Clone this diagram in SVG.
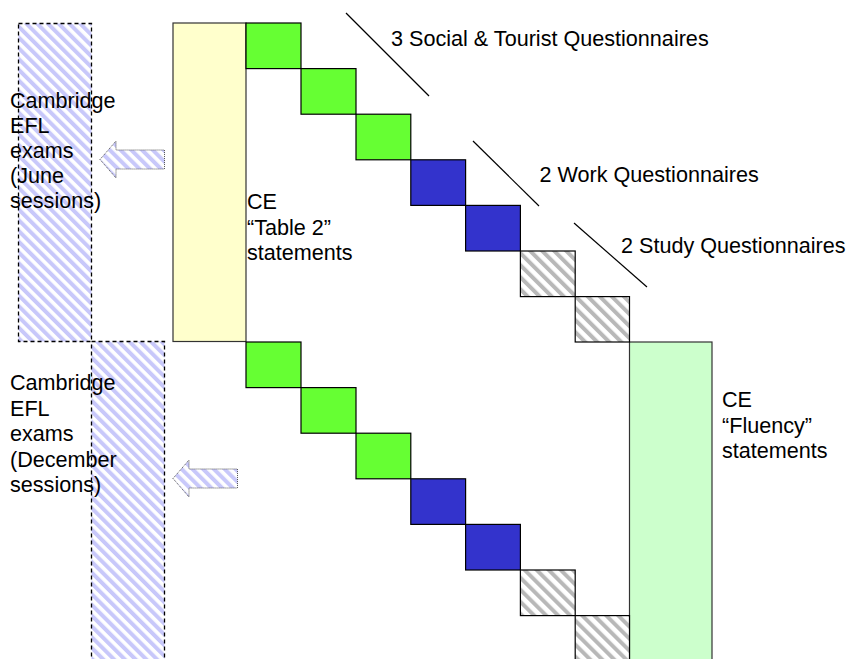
<svg xmlns="http://www.w3.org/2000/svg" width="846" height="659" viewBox="0 0 846 659">
<defs>
<pattern id="blueHatch" patternUnits="userSpaceOnUse" width="7.6" height="7.6" patternTransform="rotate(-45)">
<rect width="7.6" height="7.6" fill="#ffffff"/>
<rect width="4" height="7.6" fill="#c8c8fa"/>
</pattern>
<pattern id="greyHatch" patternUnits="userSpaceOnUse" width="8.5" height="8.5" patternTransform="rotate(-45)">
<rect width="8.5" height="8.5" fill="#ffffff"/>
<rect width="4" height="8.5" fill="#b8b8b8"/>
</pattern>
<style>
.lbl{font-family:"Liberation Sans",Arial,sans-serif;font-size:21.6px;fill:#000}
.sq{stroke:#000;stroke-width:1.2}
.g{fill:#66ff33}
.b{fill:#3333cc}
.h{fill:url(#greyHatch)}
.bar{fill:url(#blueHatch);stroke:#000;stroke-width:1.3;stroke-dasharray:4 3}
.arr{fill:url(#blueHatch);stroke:#555;stroke-width:1;stroke-dasharray:1 1}
.ln{stroke:#000;stroke-width:1.2;fill:none}
</style>
</defs>
<rect width="846" height="659" fill="#ffffff"/>

<g id="exams-june">
<rect class="bar" x="18.5" y="23.5" width="73" height="318"/>
</g>
<g id="exams-december">
<rect class="bar" x="91.5" y="341.5" width="73" height="340"/>
</g>

<g id="ce-table2">
<rect x="173" y="23" width="73" height="318.5" fill="#ffffcc" stroke="#333" stroke-width="1.2"/>
<text class="lbl" x="247" y="209"><tspan x="247">CE</tspan><tspan x="247" dy="25.5">“Table 2”</tspan><tspan x="247" dy="25.5">statements</tspan></text>
</g>

<g id="ce-fluency">
<rect x="629.5" y="342" width="82.5" height="340" fill="#ccffcc" stroke="#333" stroke-width="1.2"/>
<text class="lbl" x="722" y="407"><tspan x="722">CE</tspan><tspan x="722" dy="25.5">“Fluency”</tspan><tspan x="722" dy="25.5">statements</tspan></text>
</g>

<g id="questionnaires-top">
<rect class="sq g" x="246" y="23" width="55" height="45.6"/>
<rect class="sq g" x="301" y="68.6" width="55" height="45.6"/>
<rect class="sq g" x="356" y="114.2" width="54.8" height="45.6"/>
<rect class="sq b" x="410.8" y="159.8" width="54.8" height="45.6"/>
<rect class="sq b" x="465.6" y="205.4" width="54.8" height="45.6"/>
<rect class="sq h" x="520.4" y="251" width="54.8" height="45.6"/>
<rect class="sq h" x="575.2" y="296.6" width="54.3" height="45.4"/>
</g>

<g id="questionnaires-bottom">
<rect class="sq g" x="246" y="342" width="55" height="45.6"/>
<rect class="sq g" x="301" y="387.6" width="55" height="45.6"/>
<rect class="sq g" x="356" y="433.2" width="54.8" height="45.6"/>
<rect class="sq b" x="410.8" y="478.8" width="54.8" height="45.6"/>
<rect class="sq b" x="465.6" y="524.4" width="54.8" height="45.6"/>
<rect class="sq h" x="520.4" y="570" width="54.8" height="45.6"/>
<rect class="sq h" x="575.2" y="615.6" width="54.3" height="60"/>
</g>

<g id="label-social">
<text class="lbl" x="391" y="46">3 Social &amp; Tourist Questionnaires</text>
</g>
<g id="label-work">
<text class="lbl" x="539.5" y="182">2 Work Questionnaires</text>
</g>
<g id="label-study">
<text class="lbl" x="621" y="253">2 Study Questionnaires</text>
</g>

<g id="label-june">
<text class="lbl" x="10" y="108"><tspan x="10">Cambridge</tspan><tspan x="10" dy="25">EFL</tspan><tspan x="10" dy="25">exams</tspan><tspan x="10" dy="25">(June</tspan><tspan x="10" dy="25">sessions)</tspan></text>
</g>
<g id="label-december">
<text class="lbl" x="10" y="390"><tspan x="10">Cambridge</tspan><tspan x="10" dy="25.5">EFL</tspan><tspan x="10" dy="25.5">exams</tspan><tspan x="10" dy="25.5">(December</tspan><tspan x="10" dy="25.5">sessions)</tspan></text>
</g>

<g id="connectors">
<line class="ln" x1="346" y1="13" x2="429" y2="96"/>
<line class="ln" x1="473" y1="141" x2="539" y2="206"/>
<line class="ln" x1="574" y1="223" x2="647" y2="287"/>
<path class="arr" d="M100,159.5 L116,141 L116,150 L164.5,150 L164.5,169 L116,169 L116,178 Z"/>
<path class="arr" d="M173,478.5 L189,460 L189,469 L237.5,469 L237.5,488 L189,488 L189,497 Z"/>
</g>
</svg>
